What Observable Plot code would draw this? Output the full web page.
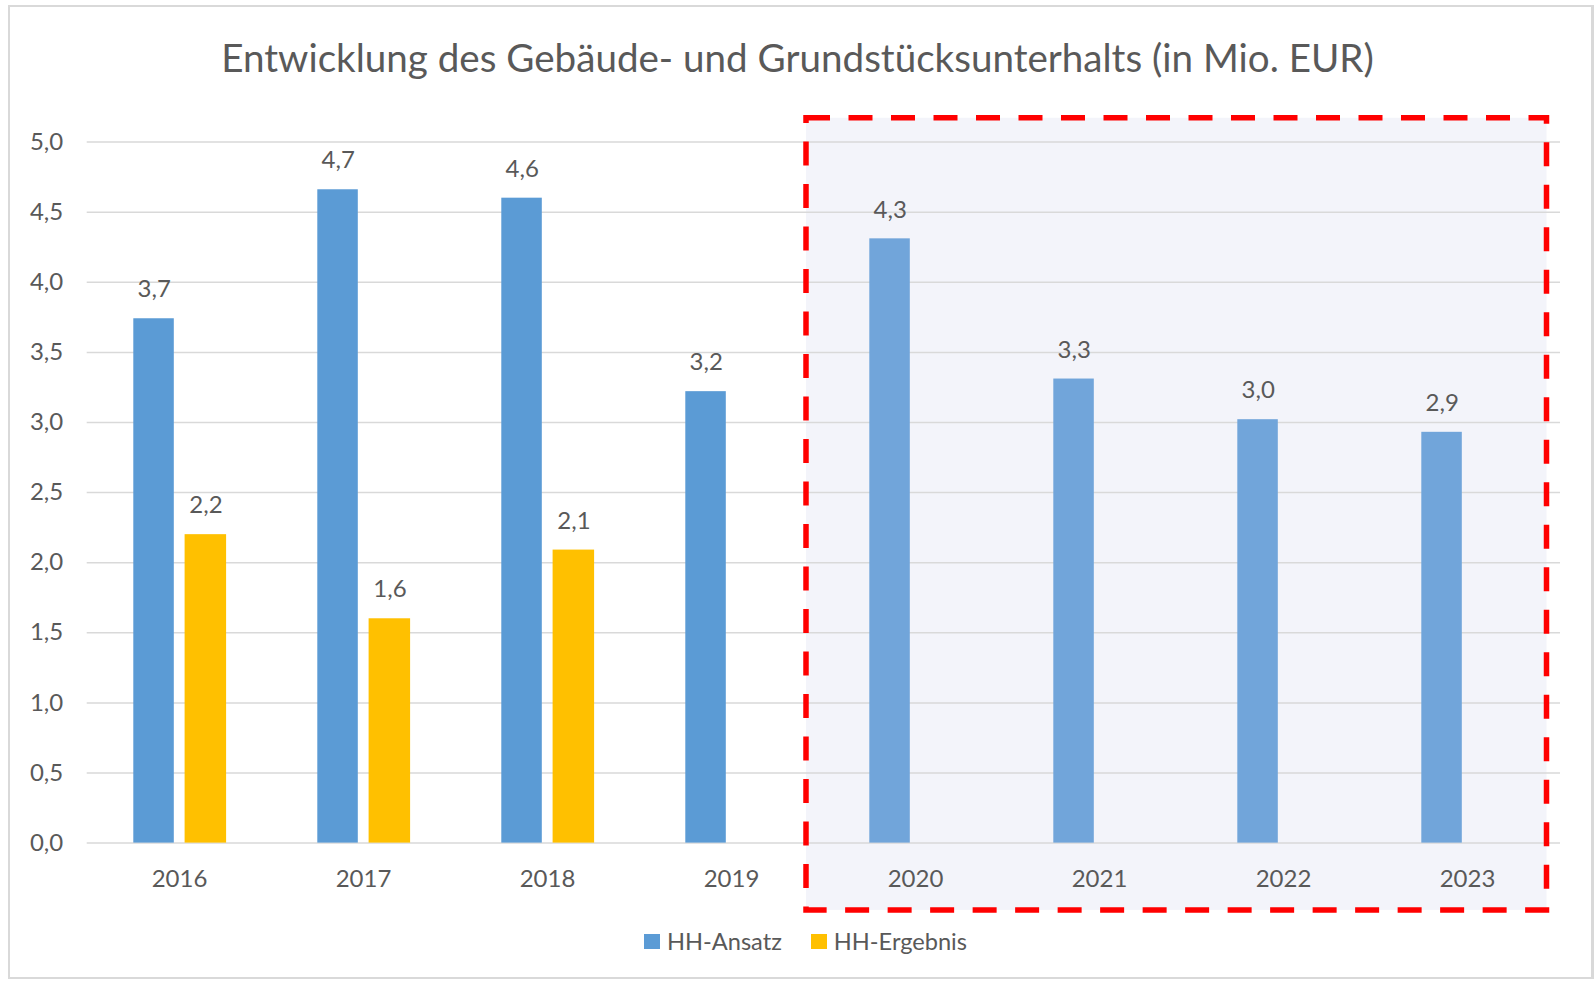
<!DOCTYPE html>
<html>
<head>
<meta charset="utf-8">
<script src="https://cdn.jsdelivr.net/npm/d3@7"></script>
<script src="https://cdn.jsdelivr.net/npm/@observablehq/plot@0.6"></script>
<style>
  body { margin: 0; background: #fff; font-family: Lato, "Open Sans", sans-serif; }
  #wrap { position: relative; width: 1595px; height: 981px; overflow: hidden; background: #fff; }
  #frame { position: absolute; left: 8px; top: 5px; width: 1586px; height: 974px; box-sizing: border-box;
           border: 2px solid #d9d9d9; border-right-width: 3px; pointer-events: none; z-index: 5; }
  #title { position: absolute; left: 0; top: 38px; width: 1595px; text-align: center; font-size: 38.6px;
           line-height: 38.6px; color: #595959; white-space: nowrap; }
  #chart { position: absolute; left: 0; top: 90px; }
  #legend { position: absolute; left: 644px; top: 930px; display: flex; align-items: center; font-size: 23.6px;
            line-height: 23.6px; color: #595959; white-space: nowrap; }
  .sw { width: 16px; height: 15px; display: inline-block; margin-right: 7px; }
  .item { display: flex; align-items: center; margin-right: 29px; }
</style>
</head>
<body>
<div id="wrap">
  <div id="frame"></div>
  <div id="title"></div>
  <div id="chart"></div>
  <div id="legend"></div>
</div>
<script>
// ---- data ----
const titleText = "Entwicklung des Gebäude- und Grundstücksunterhalts (in Mio. EUR)";
const years = ["2016", "2017", "2018", "2019", "2020", "2021", "2022", "2023"];
const ansatz = [3.74, 4.66, 4.60, 3.22, 4.31, 3.31, 3.02, 2.93];
const ergebnis = [2.20, 1.60, 2.09, null, null, null, null, null];
const highlightYears = ["2020", "2021", "2022", "2023"];
const yTicks = [0, 0.5, 1, 1.5, 2, 2.5, 3, 3.5, 4, 4.5, 5];
const seriesNames = ["HH-Ansatz", "HH-Ergebnis"];
const seriesColors = ["#5B9BD5", "#FFC000"];
const forecastColor = "#71A5DA";

// ---- options ----
const boxTop = 5.17, boxBottom = -0.48;   // y-extent of the highlight frame (data units)
const fmt = v => v.toFixed(1).replace(".", ",");

const ansatzRows = years.map((year, i) => ({year, value: ansatz[i]}));
const ergebnisRows = years.map((year, i) => ({year, value: ergebnis[i]})).filter(d => d.value != null);

document.getElementById("title").textContent = titleText;

function boxMark(kind) {
  return (index, scales) => {
    const x = scales.x, y = scales.y;
    const x0 = x(highlightYears[0]) - 17;
    const x1 = x(highlightYears[highlightYears.length - 1]) + x.bandwidth() - 12.5;
    const y0 = y(boxTop), y1 = y(boxBottom);
    const r = document.createElementNS("http://www.w3.org/2000/svg", "rect");
    r.setAttribute("x", x0); r.setAttribute("y", y0);
    r.setAttribute("width", x1 - x0); r.setAttribute("height", y1 - y0);
    if (kind === "fill") {
      r.setAttribute("fill", "#F3F4FA");
    } else {
      r.setAttribute("fill", "none");
      r.setAttribute("stroke", "#FF0000");
      r.setAttribute("stroke-width", 5.5);
      r.setAttribute("stroke-dasharray", "24 18.5");
    }
    return r;
  };
}

const blueInset = {insetLeft: 46.3, insetRight: 97.2};
const yellowInset = {insetLeft: 97.6, insetRight: 44.9};

const chart = Plot.plot({
  width: 1595,
  height: 830,
  marginLeft: 86.7,
  marginRight: 35,
  marginTop: 51.6,
  marginBottom: 77.4,
  style: {fontFamily: "Lato, sans-serif", fontSize: "24px", color: "#595959", background: "transparent", overflow: "visible"},
  x: {domain: years, padding: 0},
  y: {domain: [0, 5]},
  marks: [
    boxMark("fill"),
    Plot.ruleY(yTicks, {stroke: "#D9D9D9", strokeWidth: 1.5}),
    Plot.axisX({tickSize: 0, tickPadding: 27, label: null, fill: "#595959"}),
    Plot.axisY({ticks: yTicks, tickFormat: fmt, tickSize: 0, tickPadding: 24, label: null, fill: "#595959"}),
    Plot.barY(ansatzRows, {x: "year", y: "value", ...blueInset,
      fill: d => highlightYears.includes(d.year) ? forecastColor : seriesColors[0]}),
    Plot.barY(ergebnisRows, {x: "year", y: "value", ...yellowInset, fill: seriesColors[1]}),
    Plot.text(ansatzRows, {x: "year", y: "value", text: d => fmt(d.value), dx: -25.3, dy: -29, fill: "#595959", fontSize: 24}),
    Plot.text(ergebnisRows, {x: "year", y: "value", text: d => fmt(d.value), dx: 26.4, dy: -29, fill: "#595959", fontSize: 24}),
    boxMark("stroke")
  ]
});
document.getElementById("chart").appendChild(chart);

const legend = document.getElementById("legend");
seriesNames.forEach((name, i) => {
  const item = document.createElement("div");
  item.className = "item";
  const sw = document.createElement("span");
  sw.className = "sw";
  sw.style.background = seriesColors[i];
  const t = document.createElement("span");
  t.textContent = name;
  item.appendChild(sw); item.appendChild(t);
  legend.appendChild(item);
});
</script>
</body>
</html>
